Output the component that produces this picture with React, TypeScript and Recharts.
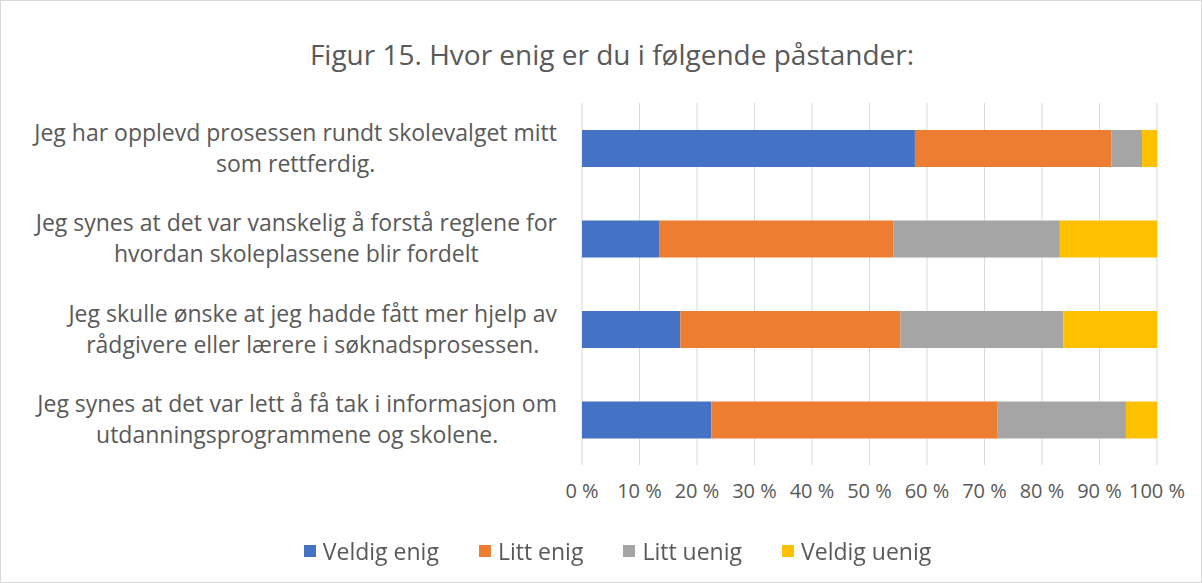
import React from 'react'
import { BarChart, Bar, XAxis, YAxis, CartesianGrid } from 'recharts'

const categories = [
  'Jeg har opplevd prosessen rundt skolevalget mitt\nsom rettferdig.',
  'Jeg synes at det var vanskelig å forstå reglene for\nhvordan skoleplassene blir fordelt',
  'Jeg skulle ønske at jeg hadde fått mer hjelp av\nrådgivere eller lærere i søknadsprosessen.',
  'Jeg synes at det var lett å få tak i informasjon om\nutdanningsprogrammene og skolene.',
]

const seriesNames = ['Veldig enig', 'Litt enig', 'Litt uenig', 'Veldig uenig']
const veldigEnig = [57.9, 13.4, 17.1, 22.5]
const littEnig = [34.2, 40.8, 38.3, 49.7]
const littUenig = [5.3, 28.9, 28.3, 22.4]
const veldigUenig = [2.6, 16.9, 16.3, 5.4]
const xTicks = [0, 10, 20, 30, 40, 50, 60, 70, 80, 90, 100]

const colors = ['#4472C4', '#ED7D31', '#A5A5A5', '#FFC000']
const FONT = '"Open Sans", sans-serif'
const TEXT = '#595959'

const data = categories.map((c, i) => ({
  name: c,
  s0: veldigEnig[i],
  s1: littEnig[i],
  s2: littUenig[i],
  s3: veldigUenig[i],
}))

// canvas is only used to measure label lines so they can be centred like excel does
const ctx = typeof document !== 'undefined' ? document.createElement('canvas').getContext('2d') : null
const measure = (s: string, font: string) => {
  if (!ctx) return s.length * 10
  ctx.font = font
  return ctx.measureText(s).width
}

const Y_FONT_SIZE = 23

const CategoryTick = (props: any) => {
  const { x, y, payload } = props
  const lines: string[] = String(payload.value).split('\n')
  const widths = lines.map((l) => measure(l, `${Y_FONT_SIZE}px ${FONT}`))
  const cx = x - Math.max(...widths) / 2
  const lineH = 31
  const startY = y - ((lines.length - 1) * lineH) / 2
  return (
    <text x={cx} y={startY} textAnchor="middle" fill={TEXT} fontSize={Y_FONT_SIZE} fontFamily={FONT}>
      {lines.map((l, i) => (
        <tspan key={i} x={cx} y={startY + i * lineH} dy="0.35em">{l}</tspan>
      ))}
    </text>
  )
}

const App = () => {
  return (
    <div style={{ position: 'fixed', left: 0, top: 0, width: 1202, height: 583, background: '#fff' }}>
      <div style={{ position: 'absolute', inset: 0, border: '1px solid #d9d9d9', boxSizing: 'border-box' }} />
      <div style={{ position: 'absolute', top: 36, left: 0, width: 1224, textAlign: 'center', fontFamily: FONT, fontSize: 28, color: TEXT, lineHeight: '36px' }}>
        Figur 15. Hvor enig er du i følgende påstander:
      </div>
      <BarChart
        width={1202}
        height={583}
        data={data}
        layout="vertical"
        barSize={37}
        margin={{ top: 103, right: 45, left: 0, bottom: 88 }}
      >
        <CartesianGrid horizontal={false} stroke="#d9d9d9" />
        <XAxis
          type="number"
          domain={[0, 100]}
          ticks={xTicks}
          tickFormatter={(v) => `${v} %`}
          axisLine={false}
          tickLine={false}
          tickSize={0}
          tickMargin={19}
          interval={0}
          height={30}
          tick={{ fill: TEXT, fontSize: 20, fontFamily: FONT }}
        />
        <YAxis
          type="category"
          dataKey="name"
          width={582}
          axisLine={false}
          tickLine={false}
          tickSize={0}
          tickMargin={25}
          tick={<CategoryTick />}
          interval={0}
        />
        {seriesNames.map((n, i) => (
          <Bar key={n} dataKey={`s${i}`} name={n} stackId="a" fill={colors[i]} isAnimationActive={false} />
        ))}
      </BarChart>
      <div style={{ position: 'absolute', top: 536, left: 0, width: 1235, display: 'flex', justifyContent: 'center', gap: 40, fontFamily: FONT, fontSize: 23, color: TEXT, lineHeight: '30px' }}>
        {seriesNames.map((n, i) => (
          <div key={n} style={{ display: 'flex', alignItems: 'center' }}>
            <span style={{ width: 12, height: 12, background: colors[i], marginRight: 7, display: 'inline-block' }} />
            <span>{n}</span>
          </div>
        ))}
      </div>
    </div>
  )
}

export default App
